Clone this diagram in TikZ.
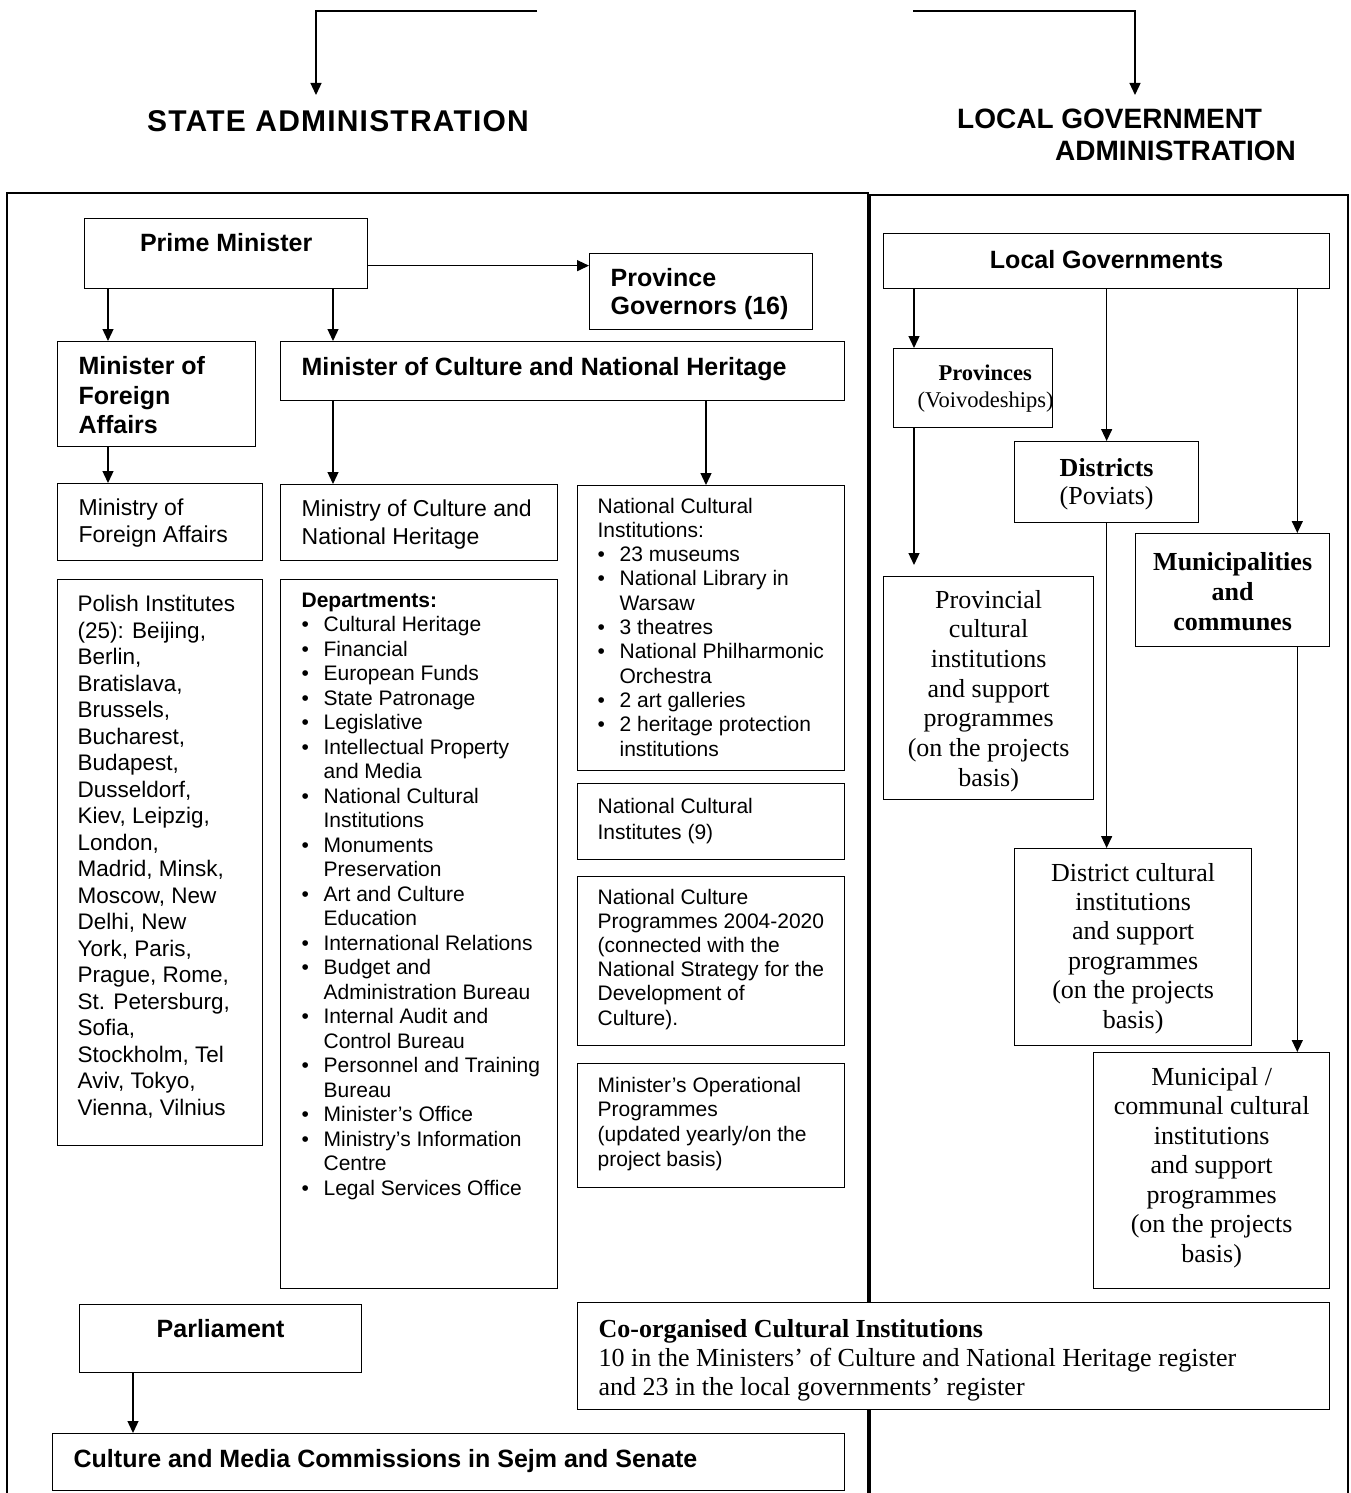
\documentclass[tikz,border=0pt]{standalone}
\usepackage{fontspec}
\setmainfont{Liberation Serif}
\setsansfont{Liberation Sans}
\usetikzlibrary{arrows.meta}

% box contents: width, height, top gap, (left pad), text
\newcommand{\lbox}[5]{\parbox[t][#2pt][t]{#1pt}{\vspace*{#3pt}\raggedright\leftskip=#4pt\relax #5\par}}
\newcommand{\cbox}[4]{\parbox[t][#2pt][t]{#1pt}{\vspace*{#3pt}\centering #4\par}}
\newcommand{\bul}{\par\hangindent=22pt\hangafter=1\noindent\makebox[22pt][l]{\textbullet}}

\tikzset{
    box/.style={draw, fill=white, line width=1.3pt, inner sep=0pt, anchor=north west},
    head/.style={box, font=\sffamily\bfseries\fontsize{25}{29.5}\selectfont},
    txt/.style={box, font=\sffamily\fontsize{21}{24.5}\selectfont},
    serif/.style={box, font=\rmfamily\fontsize{26}{29.5}\selectfont},
    arr/.style={line width=1.3pt, -{Triangle[length=12pt,width=11pt]}},
    frame/.style={line width=1.8pt}
}

\begin{document}
\begin{tikzpicture}[x=1pt, y=-1pt]
    \useasboundingbox (0,0) rectangle (1350,1493);

    % Titles
    \node[font=\sffamily\bfseries\fontsize{30}{36}\selectfont\addfontfeature{LetterSpace=4}, inner sep=0pt] (state) at (338,121) {STATE ADMINISTRATION};
    \node[font=\sffamily\bfseries\fontsize{28}{32}\selectfont, inner sep=0pt, anchor=north west, align=left] (local) at (957,109)
        {LOCAL GOVERNMENT\\\hspace*{98pt}ADMINISTRATION};
    \coordinate (topL) at (537,11);
    \coordinate (stateTip) at (316,95);
    \coordinate (topR) at (913,11);
    \coordinate (localTip) at (1135,95);
    \draw[arr] (topL) -| (stateTip);
    \draw[arr] (topR) -| (localTip);

    % Frames
    \draw[frame] (7,1493) -- (7,193) -- (868,193) -- (868,1493);
    \draw[frame] (870,1493) -- (870,195) -- (1348,195) -- (1348,1493);

    % State administration
    \node[head] (pm) at (84,218) {\cbox{283}{70}{15}{Prime Minister}};
    \node[head, font=\sffamily\bfseries\fontsize{25}{28}\selectfont] (pg) at (589,253) {\lbox{223}{76}{15}{21}{Province\\Governors (16)}};
    \node[head] (mfa) at (57,341) {\lbox{198}{105}{15}{21}{Minister of\\Foreign\\Affairs}};
    \node[head] (mcnh) at (280,341) {\lbox{564}{59}{16}{21}{Minister of Culture and National Heritage}};
    \node[txt, font=\sffamily\fontsize{23}{27}\selectfont] (mofa) at (57,483) {\lbox{205}{77}{15.5}{21}{Ministry of\\Foreign Affairs}};
    \node[txt, font=\sffamily\fontsize{23}{28}\selectfont] (mocnh) at (280,484) {\lbox{277}{76}{15.5}{21}{Ministry of Culture and\\National Heritage}};
    \node[txt, font=\sffamily\fontsize{21}{24.3}\selectfont] (nci) at (577,485) {\lbox{267}{285}{12.2}{20}{National Cultural\\Institutions:
        \bul 23 museums
        \bul National Library in\newline Warsaw
        \bul 3 theatres
        \bul National Philharmonic\newline Orchestra
        \bul 2 art galleries
        \bul 2 heritage protection\newline institutions}};
    \node[txt, font=\sffamily\fontsize{22.5}{26.5}\selectfont] (pol) at (57,579) {\lbox{205}{566}{15.7}{20}{Polish Institutes\\(25): Beijing,\\Berlin,\\Bratislava,\\Brussels,\\Bucharest,\\Budapest,\\Dusseldorf,\\Kiev, Leipzig,\\London,\\Madrid, Minsk,\\Moscow, New\\Delhi, New\\York, Paris,\\Prague, Rome,\\St. Petersburg,\\Sofia,\\Stockholm, Tel\\Aviv, Tokyo,\\Vienna, Vilnius}};
    \node[txt] (dep) at (280,579) {\lbox{277}{709}{13.2}{21}{\textbf{Departments:}
        \bul Cultural Heritage
        \bul Financial
        \bul European Funds
        \bul State Patronage
        \bul Legislative
        \bul Intellectual Property\newline and Media
        \bul National Cultural\newline Institutions
        \bul Monuments\newline Preservation
        \bul Art and Culture\newline Education
        \bul International Relations
        \bul Budget and\newline Administration Bureau
        \bul Internal Audit and\newline Control Bureau
        \bul Personnel and Training\newline Bureau
        \bul Minister's Office
        \bul Ministry's Information\newline Centre
        \bul Legal Services Office}};
    \node[txt, font=\sffamily\fontsize{21}{26}\selectfont] (ncinst) at (577,783) {\lbox{267}{76}{14.2}{20}{National Cultural\\Institutes (9)}};
    \node[txt, font=\sffamily\fontsize{21}{24.2}\selectfont] (ncp) at (577,876) {\lbox{267}{169}{12.2}{20}{National Culture\\Programmes 2004-2020\\(connected with the\\National Strategy for the\\Development of\\Culture).}};
    \node[txt, font=\sffamily\fontsize{21}{24.7}\selectfont] (mop) at (577,1063) {\lbox{267}{124}{13.2}{20}{Minister's Operational\\Programmes\\(updated yearly/on the\\project basis)}};
    \node[head] (parl) at (79,1304) {\cbox{282}{68}{14.75}{Parliament}};
    \node[head] (cmc) at (52,1433) {\lbox{792}{57}{15.75}{21}{Culture and Media Commissions in Sejm and Senate}};
    \node[serif, font=\rmfamily\fontsize{26}{29}\selectfont] (coorg) at (577,1302) {\lbox{752}{107}{16.4}{21}{\textbf{Co-organised Cultural Institutions}\\10 in the Ministers' of Culture and National Heritage register\\and 23 in the local governments' register}};

    % Local government administration
    \node[head] (lg) at (883,233) {\cbox{446}{55}{16.75}{Local Governments}};
    \node[serif, font=\rmfamily\fontsize{22.5}{27}\selectfont] (prov) at (893,348)
        {\parbox[t][79pt][t]{159pt}{\vspace*{16.5pt}\centering\leftskip=24pt plus 1fil\relax \textbf{Provinces}\\(Voivodeships)\par}};
    \node[serif, font=\rmfamily\fontsize{26}{28}\selectfont] (dist) at (1014,441) {\cbox{184}{81}{16.4}{\textbf{Districts}\\(Poviats)}};
    \node[serif, font=\rmfamily\bfseries\fontsize{26}{30}\selectfont] (muni) at (1135,533) {\cbox{194}{113}{18.4}{Municipalities\\and\\communes}};
    \node[serif, font=\rmfamily\fontsize{26}{29.7}\selectfont] (provcult) at (883,576) {\cbox{210}{223}{13.4}{Provincial\\cultural\\institutions\\and support\\programmes\\(on the projects\\basis)}};
    \node[serif, font=\rmfamily\fontsize{26}{29.4}\selectfont] (distcult) at (1014,848) {\cbox{237}{197}{14.4}{District cultural\\institutions\\and support\\programmes\\(on the projects\\basis)}};
    \node[serif] (municult) at (1093,1052) {\cbox{236}{236}{14.4}{Municipal /\\communal cultural\\institutions\\and support\\programmes\\(on the projects\\basis)}};

    % Arrows
    \draw[arr] ([yshift=-12pt]pm.east) -- ([yshift=-12pt]pm.east -| pg.west);
    \draw[arr] ([xshift=24pt]pm.south west) -- ([xshift=24pt]pm.south west |- mfa.north);
    \draw[arr] ([xshift=249pt]pm.south west) -- ([xshift=249pt]pm.south west |- mcnh.north);
    \draw[arr] ([xshift=51pt]mfa.south west) -- ([xshift=51pt]mfa.south west |- mofa.north);
    \draw[arr] ([xshift=53pt]mcnh.south west) -- ([xshift=53pt]mcnh.south west |- mocnh.north);
    \draw[arr] ([xshift=426pt]mcnh.south west) -- ([xshift=426pt]mcnh.south west |- nci.north);
    \draw[arr] ([xshift=54pt]parl.south west) -- ([xshift=54pt]parl.south west |- cmc.north);
    \draw[arr] ([xshift=31pt]lg.south west) -- ([xshift=31pt]lg.south west |- prov.north);
    \draw[arr] (lg.south) -- (dist.north);
    \draw[arr] ([xshift=-33pt]lg.south east) -- ([xshift=-33pt]lg.south east |- muni.north);
    \draw[arr] ([xshift=21pt]prov.south west) -- ([xshift=21pt,yshift=11pt]prov.south west |- provcult.north);
    \draw[arr] (dist.south) -- (dist.south |- distcult.north);
    \draw[arr] ([xshift=-33pt]muni.south east) -- ([xshift=-33pt]muni.south east |- municult.north);
\end{tikzpicture}
\end{document}
